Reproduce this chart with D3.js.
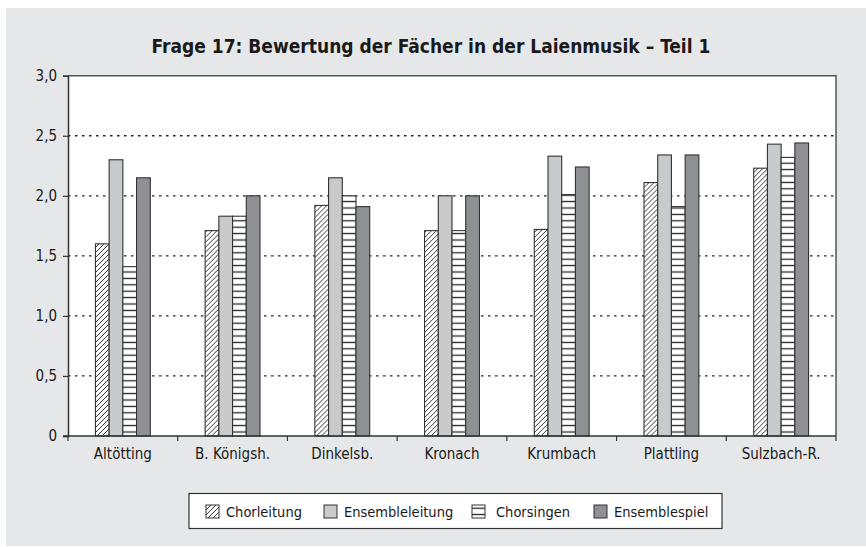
<!DOCTYPE html>
<html>
<head>
<meta charset="utf-8">
<script src="https://cdn.jsdelivr.net/npm/d3@7"></script>
<style>
	body { margin: 0; background: #fff; }
	svg text { font-family: 'Liberation Sans Narrow', 'DejaVu Sans Condensed', 'Open Sans', sans-serif; fill: #1a1a1a; }
</style>
</head>
<body>
<div id="chart"></div>
<script>
const categories = ['Altötting', 'B. Königsh.', 'Dinkelsb.', 'Kronach', 'Krumbach', 'Plattling', 'Sulzbach-R.'];
const seriesNames = ['Chorleitung', 'Ensembleleitung', 'Chorsingen', 'Ensemblespiel'];
const chorleitung = [1.60, 1.71, 1.92, 1.71, 1.72, 2.11, 2.23];
const ensembleleitung = [2.30, 1.83, 2.15, 2.00, 2.33, 2.34, 2.43];
const chorsingen = [1.41, 1.83, 2.00, 1.71, 2.01, 1.91, 2.32];
const ensemblespiel = [2.15, 2.00, 1.91, 2.00, 2.24, 2.34, 2.44];
const yTicks = [0, 0.5, 1.0, 1.5, 2.0, 2.5, 3.0];
const title = 'Frage 17: Bewertung der Fächer in der Laienmusik – Teil 1';

const seriesValues = [chorleitung, ensembleleitung, chorsingen, ensemblespiel];
const fills = ['url(#hatchDiag)', '#c9cacc', 'url(#hatchHoriz)', '#8f9093'];

const width = 866, height = 547;
const margin = { left: 68, right: 30, top: 75.7, bottom: 111 };

const svg = d3.select('#chart').append('svg')
	.attr('width', width)
	.attr('height', height);

// background panel
svg.append('rect')
	.attr('x', 6).attr('y', 8)
	.attr('width', width - 6).attr('height', height - 9)
	.attr('fill', '#e6e7e8');

// patterns
let defs = svg.append('defs');

let diag = defs.append('pattern')
	.attr('id', 'hatchDiag')
	.attr('patternUnits', 'userSpaceOnUse')
	.attr('width', 5).attr('height', 5);
diag.append('rect').attr('width', 5).attr('height', 5).attr('fill', '#fff');
diag.append('path')
	.attr('d', 'M-1,1 L1,-1 M0,5 L5,0 M4,6 L6,4')
	.attr('stroke', '#222').attr('stroke-width', 0.9);

let horiz = defs.append('pattern')
	.attr('id', 'hatchHoriz')
	.attr('patternUnits', 'userSpaceOnUse')
	.attr('width', 6).attr('height', 6.4);
horiz.append('rect').attr('width', 6).attr('height', 6.4).attr('fill', '#fff');
horiz.append('line')
	.attr('x1', 0).attr('x2', 6).attr('y1', 3.2).attr('y2', 3.2)
	.attr('stroke', '#222').attr('stroke-width', 1.3);

let x0 = d3.scaleBand()
	.domain(categories)
	.range([margin.left, width - margin.right])
	.padding(0);

let x1 = d3.scaleBand()
	.domain(seriesNames)
	.range([x0.bandwidth() * 0.25, x0.bandwidth() * 0.75])
	.padding(0);

let y = d3.scaleLinear()
	.domain([0, 3])
	.range([height - margin.bottom, margin.top]);

// plot area
svg.append('rect')
	.attr('x', margin.left).attr('y', margin.top)
	.attr('width', width - margin.right - margin.left)
	.attr('height', y(0) - margin.top)
	.attr('fill', '#fff');

// grid lines
svg.append('g')
	.selectAll('line')
	.data(yTicks.filter(d => d > 0 && d < 3))
	.enter()
	.append('line')
	.attr('x1', margin.left).attr('x2', width - margin.right)
	.attr('y1', d => y(d)).attr('y2', d => y(d))
	.attr('stroke', '#222')
	.attr('stroke-width', 1.3)
	.attr('stroke-dasharray', '2.5,4.5');

// bars
let groups = svg.append('g')
	.selectAll('g')
	.data(categories)
	.enter()
	.append('g')
	.attr('transform', d => `translate(${x0(d)},0)`);

groups.selectAll('rect')
	.data((d, i) => seriesNames.map((s, j) => ({ s: s, j: j, v: seriesValues[j][i] })))
	.enter()
	.append('rect')
	.attr('x', d => x1(d.s))
	.attr('y', d => y(d.v))
	.attr('width', x1.bandwidth())
	.attr('height', d => y(0) - y(d.v))
	.attr('fill', d => fills[d.j])
	.attr('stroke', '#333')
	.attr('stroke-width', 1.1);

// plot border (top/right)
svg.append('path')
	.attr('d', `M${margin.left},${margin.top}H${width - margin.right}V${y(0)}`)
	.attr('fill', 'none')
	.attr('stroke', '#555')
	.attr('stroke-width', 1.5);

// y axis
let yAxis = d3.axisLeft(y)
	.tickValues(yTicks)
	.tickSize(5)
	.tickPadding(6)
	.tickFormat(d => d === 0 ? '0' : d3.format('.1f')(d).replace('.', ','));

svg.append('g')
	.attr('transform', `translate(${margin.left},0)`)
	.call(yAxis)
	.call(g => g.select('.domain').attr('stroke', '#333').attr('stroke-width', 1.5))
	.call(g => g.selectAll('.tick line').attr('stroke', '#333').attr('stroke-width', 1.2))
	.call(g => g.selectAll('text').attr('font-size', 15).attr('fill', '#1a1a1a'));

// x axis: ticks at category boundaries
let boundaries = categories.map(c => x0(c)).concat([width - margin.right]);

let xAxisG = svg.append('g');
xAxisG.append('line')
	.attr('x1', margin.left - 5).attr('x2', width - margin.right)
	.attr('y1', y(0)).attr('y2', y(0))
	.attr('stroke', '#333').attr('stroke-width', 1.5);
xAxisG.selectAll('.bt')
	.data(boundaries)
	.enter()
	.append('line')
	.attr('class', 'bt')
	.attr('x1', d => d).attr('x2', d => d)
	.attr('y1', y(0)).attr('y2', y(0) + 5)
	.attr('stroke', '#333').attr('stroke-width', 1.2);
xAxisG.selectAll('text')
	.data(categories)
	.enter()
	.append('text')
	.attr('x', d => x0(d) + x0.bandwidth() / 2)
	.attr('y', y(0) + 18)
	.attr('dy', '0.32em')
	.attr('text-anchor', 'middle')
	.attr('font-size', 15)
	.text(d => d);

// title
svg.append('text')
	.attr('x', 431)
	.attr('y', 46)
	.attr('dy', '0.35em')
	.attr('text-anchor', 'middle')
	.attr('font-size', 19)
	.attr('font-weight', 'bold')
	.attr('fill', '#333')
	.text(title);

// legend
let legend = svg.append('g');
legend.append('rect')
	.attr('x', 189).attr('y', 493.5)
	.attr('width', 533).attr('height', 35)
	.attr('fill', '#fff')
	.attr('stroke', '#333')
	.attr('stroke-width', 1.2);

const legendX = [206, 324, 472, 594];
let items = legend.selectAll('.item')
	.data(seriesNames)
	.enter()
	.append('g')
	.attr('class', 'item')
	.attr('transform', (d, i) => `translate(${legendX[i]},505)`);

items.append('rect')
	.attr('width', 13).attr('height', 13)
	.attr('fill', (d, i) => fills[i])
	.attr('stroke', '#333')
	.attr('stroke-width', 1);

items.append('text')
	.attr('x', (d, i) => i === 2 ? 24 : 20)
	.attr('y', 6.5)
	.attr('dy', '0.35em')
	.attr('font-size', 14.5)
	.text(d => d);
</script>
</body>
</html>
